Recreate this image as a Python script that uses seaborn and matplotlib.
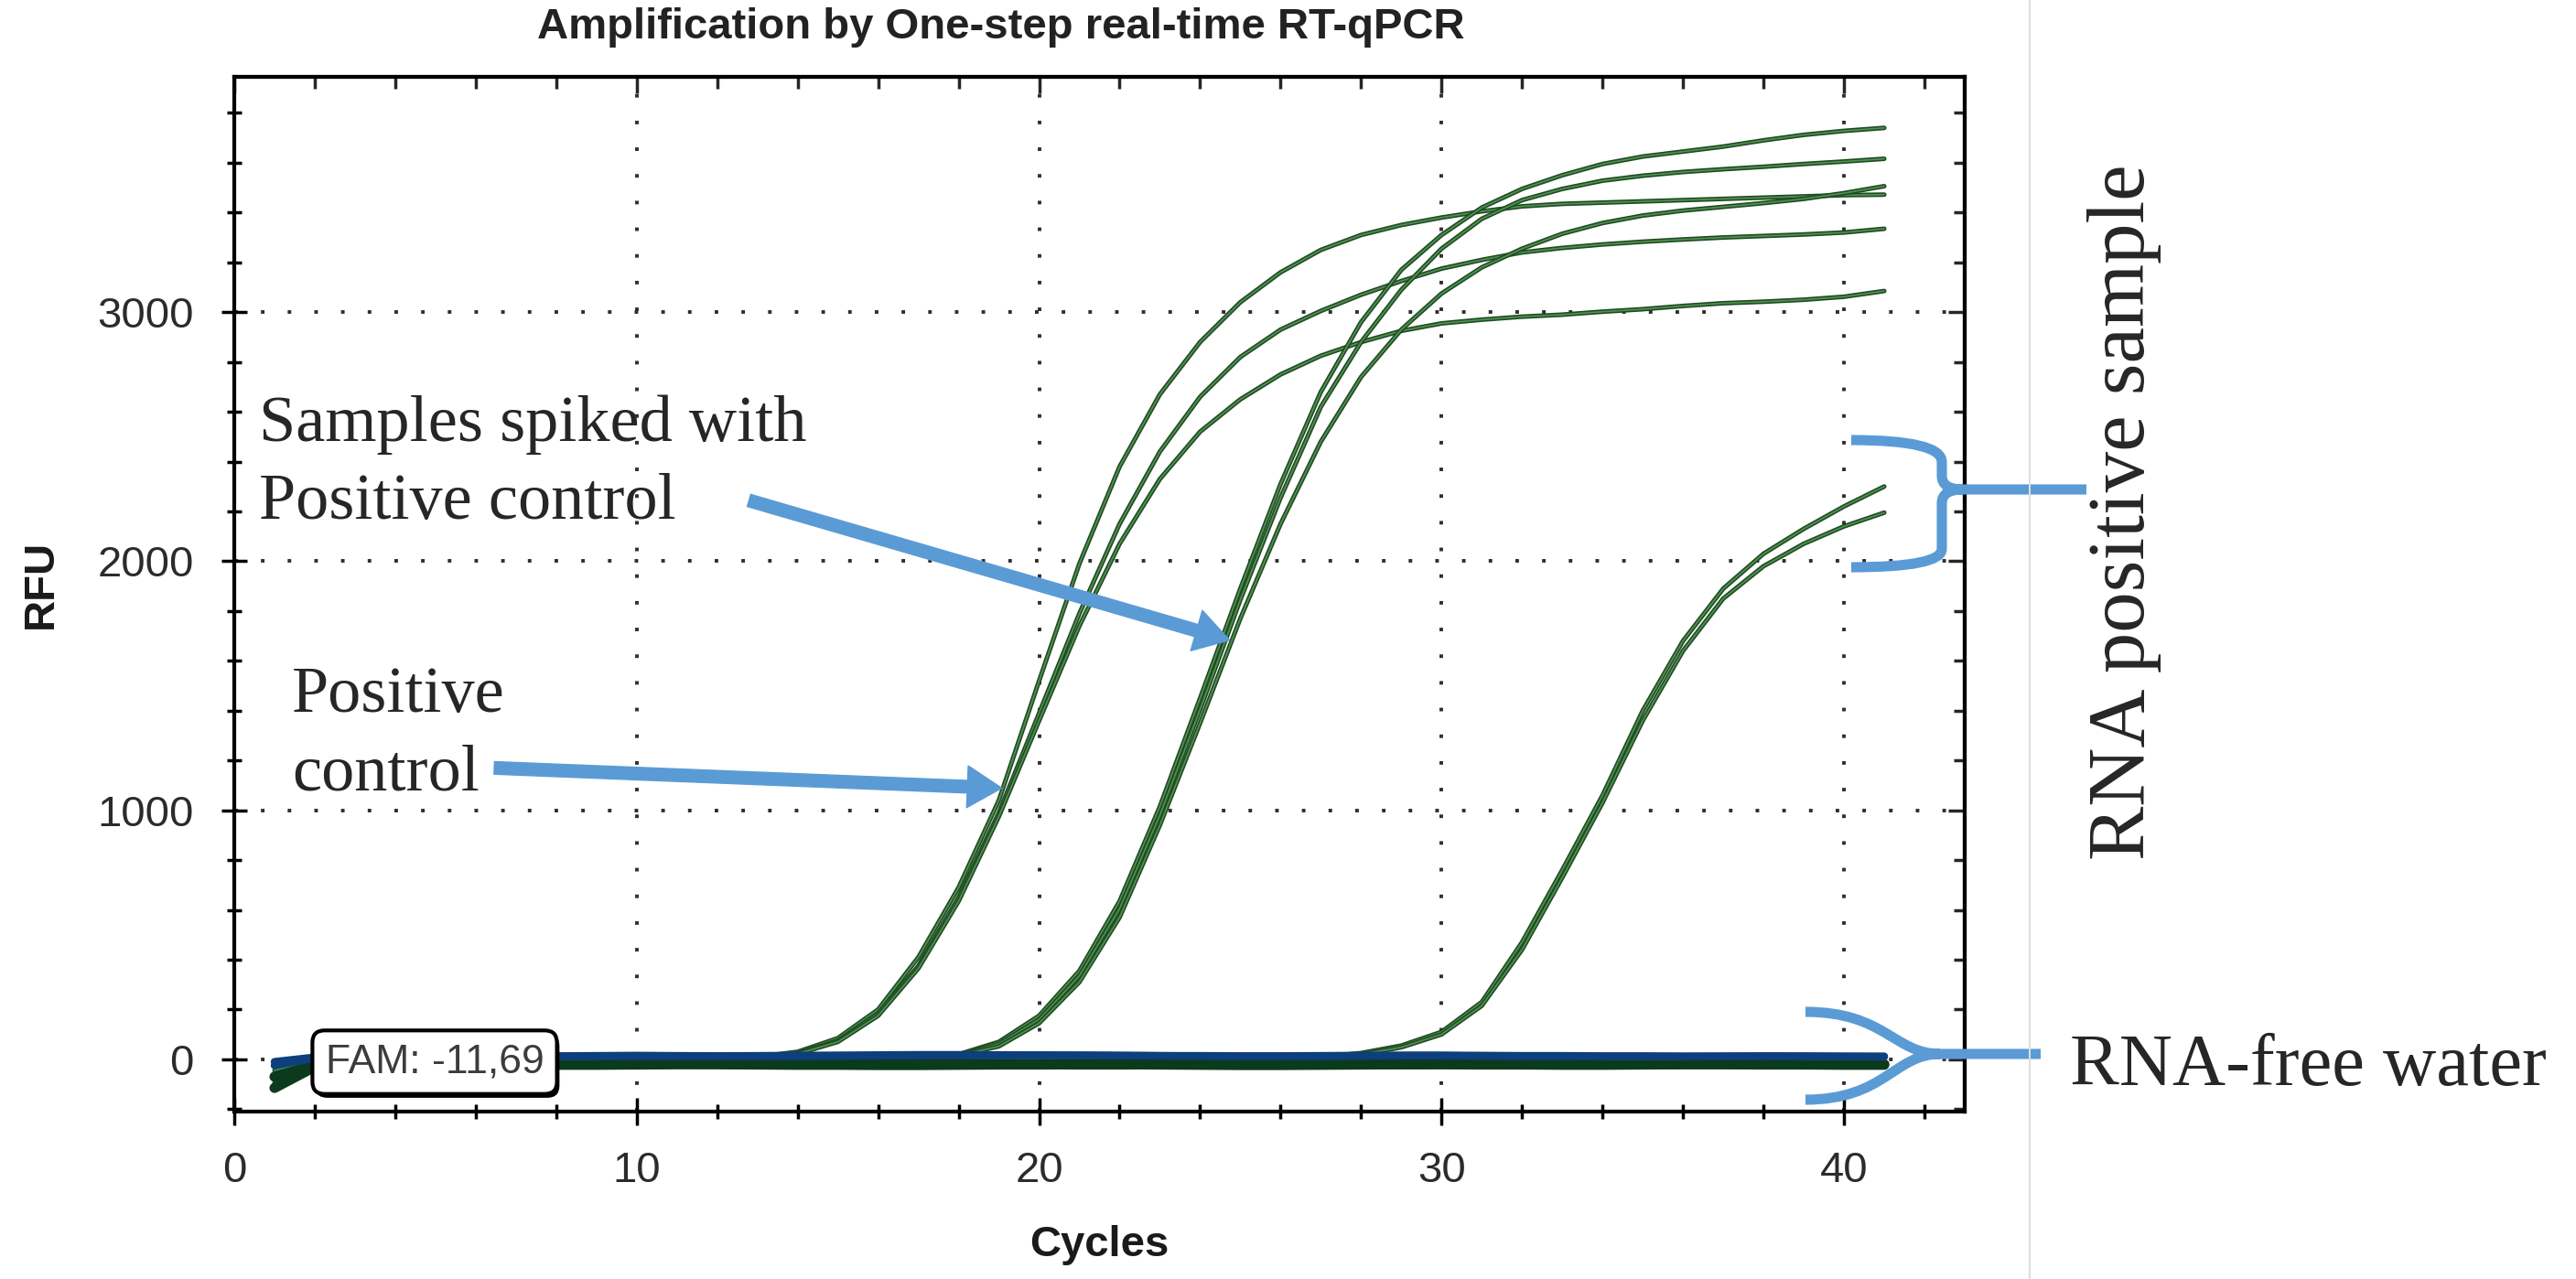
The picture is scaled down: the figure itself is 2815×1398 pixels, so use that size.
import matplotlib
matplotlib.use("Agg")
import matplotlib.pyplot as plt
import matplotlib.patheffects as pe
import seaborn as sns
import pandas as pd
from matplotlib.ticker import FixedLocator, MultipleLocator
from matplotlib.path import Path
from matplotlib.patches import PathPatch
from matplotlib.lines import Line2D

sns.set_style("ticks")
plt.rcParams['font.family'] = ['Liberation Sans', 'DejaVu Sans']

# -------------------------------
# Data (RFU per cycle)
# -------------------------------
cycles = list(range(1, 42))

positive_control_1 = [-95, -6, 0, 2, 1, 0, 1, 2, 1, 2,
                      3, 5, 10, 30, 85, 200, 410, 690, 1040, 1520,
                      1990, 2380, 2670, 2880, 3040, 3160, 3250, 3310, 3350, 3380,
                      3405, 3425, 3435, 3440, 3445, 3450, 3455, 3460, 3465, 3470,
                      3472]
positive_control_2 = [-60, -4, 1, 0, 2, 1, 0, 1, 2, 1,
                      2, 4, 8, 25, 75, 185, 375, 650, 990, 1390,
                      1790, 2150, 2440, 2660, 2820, 2930, 3005, 3070, 3125, 3175,
                      3210, 3240, 3258, 3272, 3283, 3292, 3300, 3306, 3312, 3320,
                      3335]
positive_control_3 = [-30, -3, 0, 1, 1, 2, 1, 0, 1, 2,
                      2, 3, 7, 22, 70, 175, 365, 635, 975, 1360,
                      1740, 2070, 2330, 2520, 2650, 2750, 2825, 2880, 2925, 2955,
                      2970, 2982, 2990, 3002, 3012, 3025, 3036, 3042, 3050, 3062,
                      3085]
spiked_1 = [-110, -8, 0, 1, 2, 1, 0, 1, 1, 2,
            1, 2, 2, 3, 3, 4, 5, 20, 70, 175,
            355, 635, 1015, 1450, 1890, 2310, 2680, 2960, 3170, 3310,
            3420, 3495, 3550, 3595, 3625, 3645, 3665, 3690, 3712, 3728,
            3740]
spiked_2 = [-80, -5, 1, 0, 1, 2, 1, 1, 0, 1,
            2, 1, 2, 2, 3, 3, 5, 18, 62, 160,
            335, 605, 980, 1405, 1845, 2255, 2620, 2880, 3090, 3255,
            3375, 3450, 3495, 3528, 3548, 3563, 3574, 3584, 3595, 3605,
            3616]
spiked_3 = [-45, -4, 0, 1, 1, 0, 2, 1, 1, 0,
            1, 2, 1, 2, 2, 3, 4, 15, 52, 145,
            310, 570, 940, 1350, 1770, 2150, 2480, 2740, 2930, 3075,
            3180, 3255, 3315, 3358, 3388, 3408, 3423, 3438, 3455, 3478,
            3506]
sample_1 = [-20, -2, 0, 1, 0, 1, 1, 0, 1, 1,
            0, 1, 1, 0, 1, 1, 2, 1, 2, 2,
            2, 1, 2, 2, 2, 3, 10, 25, 55, 110,
            230, 470, 760, 1060, 1400, 1680, 1890, 2030, 2130, 2220,
            2300]
sample_2 = [-70, -5, 0, 0, 1, 1, 0, 1, 1, 0,
            1, 1, 0, 1, 1, 2, 1, 1, 2, 1,
            2, 2, 1, 2, 2, 2, 8, 20, 48, 100,
            215, 440, 730, 1030, 1360, 1640, 1850, 1980, 2070, 2140,
            2195]

water_navy_1 = [-10, 8, 12, 14, 14, 13, 12, 13, 14, 15,
                14, 13, 14, 15, 16, 17, 18, 18, 17, 16,
                16, 15, 14, 14, 13, 13, 14, 15, 16, 16,
                15, 14, 14, 13, 13, 12, 12, 13, 13, 12,
                12]
water_navy_2 = [-25, 5, 10, 11, 12, 12, 11, 10, 11, 12,
                12, 13, 12, 12, 13, 14, 15, 16, 17, 17,
                16, 15, 14, 13, 12, 12, 12, 13, 14, 14,
                13, 12, 12, 11, 11, 11, 12, 12, 11, 11,
                10]
water_green_1 = [-115, -30, -22, -21, -20, -20, -21, -22, -22, -21,
                 -20, -20, -21, -22, -22, -23, -23, -22, -21, -21,
                 -20, -20, -21, -22, -23, -23, -22, -21, -20, -20,
                 -21, -21, -22, -22, -21, -20, -20, -21, -21, -22,
                 -22]
water_green_2 = [-70, -25, -18, -17, -17, -18, -19, -19, -18, -17,
                 -17, -18, -19, -20, -20, -19, -18, -18, -19, -20,
                 -21, -21, -20, -19, -18, -18, -19, -20, -20, -19,
                 -18, -18, -19, -20, -20, -19, -19, -18, -18, -19,
                 -20]

threshold = -11.69

x_ticks = [0, 10, 20, 30, 40]
y_ticks = [0, 1000, 2000, 3000]

amp_curves = {
    "pc1": positive_control_1, "pc2": positive_control_2, "pc3": positive_control_3,
    "sp1": spiked_1, "sp2": spiked_2, "sp3": spiked_3,
    "s1": sample_1, "s2": sample_2,
}
water_curves = {
    "wn1": ("navy", water_navy_1), "wn2": ("navy", water_navy_2),
    "wg1": ("green", water_green_1), "wg2": ("green", water_green_2),
}


def long_table(curves):
    rows = []
    for well, item in curves.items():
        tone, vals = item if isinstance(item, tuple) else ("amp", item)
        for c, v in zip(cycles, vals):
            rows.append((well, tone, c, v))
    return pd.DataFrame(rows, columns=["well", "tone", "cycle", "rfu"])


amp_df = long_table(amp_curves)
water_df = long_table(water_curves)

# -------------------------------
# Figure
# -------------------------------
W, H = 2815, 1398


def fx(px):
    return px / W


def fy(py):
    return 1 - py / H


fig = plt.figure(figsize=(W / 100, H / 100), dpi=100)
ax = fig.add_axes([fx(256), fy(1215), (2147 - 256) / W, (1215 - 84) / H])

sns.lineplot(data=amp_df, x="cycle", y="rfu", units="well", estimator=None,
             color="#4f8f50", linewidth=1.3, legend=False, ax=ax, zorder=3,
             path_effects=[pe.Stroke(linewidth=3.6, foreground="#1f4a22"), pe.Normal()])

sns.lineplot(data=water_df[water_df.tone == "green"], x="cycle", y="rfu",
             units="well", estimator=None, color="#0b3a1c", linewidth=8,
             legend=False, ax=ax, zorder=4)
sns.lineplot(data=water_df[water_df.tone == "navy"], x="cycle", y="rfu",
             units="well", estimator=None, color="#0d3f7d", linewidth=6,
             legend=False, ax=ax, zorder=4)

ax.set_xlim(0, 43)
ax.set_ylim(-210, 3945)

ax.xaxis.set_major_locator(FixedLocator(x_ticks))
ax.xaxis.set_minor_locator(MultipleLocator(2))
ax.yaxis.set_major_locator(FixedLocator(y_ticks))
ax.yaxis.set_minor_locator(MultipleLocator(200))

ax.tick_params(which="both", direction="inout", width=2.5, color="black",
               top=False, right=False, labelsize=34, labelcolor="#2b2b2b")
ax.tick_params(axis="x", which="major", length=22, pad=20)
ax.tick_params(axis="x", which="minor", length=12)
ax.tick_params(axis="y", which="major", length=20, pad=22)
ax.tick_params(axis="y", which="minor", length=12)

ax.set_axisbelow(True)
ax.grid(True, which="major", color="#2e2e2e", linewidth=2.8,
        linestyle=(0, (1, 6.5)))

for s in ax.spines.values():
    s.set_linewidth(3)
    s.set_color("black")

# inward ticks on the top and right frame
top = ax.secondary_xaxis("top")
top.xaxis.set_major_locator(FixedLocator(x_ticks))
top.xaxis.set_minor_locator(MultipleLocator(2))
top.tick_params(which="both", direction="in", labeltop=False, width=2.5)
top.tick_params(which="major", length=13)
top.tick_params(which="minor", length=9)
top.spines["top"].set_linewidth(3)

right = ax.secondary_yaxis("right")
right.yaxis.set_major_locator(FixedLocator(y_ticks))
right.yaxis.set_minor_locator(MultipleLocator(200))
right.tick_params(which="both", direction="in", labelright=False, width=2.5)
right.tick_params(which="major", length=13)
right.tick_params(which="minor", length=9)
right.spines["right"].set_linewidth(3)

ax.set_xlabel("Cycles", fontsize=34, fontweight="bold", color="#1a1a1a")
ax.xaxis.set_label_coords(0.5, -0.11)
ax.set_ylabel("RFU", fontsize=34, fontweight="bold", color="#1a1a1a")
ax.yaxis.set_label_coords(-0.10, 0.51)

fig.text(fx(1094), fy(30), "Amplification by One-step real-time RT-qPCR",
         ha="center", va="center", fontsize=34, fontweight="bold", color="#222222")

# threshold label box
fam = ax.text(4.98, threshold, "FAM: -11,69", ha="center", va="center",
              fontsize=32, color="#3c3c3c", zorder=8,
              bbox=dict(boxstyle="round,pad=0.32,rounding_size=0.3",
                        fc="white", ec="black", lw=3))
fam.get_bbox_patch().set_path_effects([
    pe.SimplePatchShadow(offset=(2, -3), shadow_rgbFace="black", alpha=1),
    pe.Normal()])

# -------------------------------
# Annotations
# -------------------------------
blue = "#5b9bd5"
serif = ["Liberation Serif", "DejaVu Serif"]
arrow = dict(arrowstyle="simple,head_length=0.9,head_width=1.1,tail_width=0.33",
             color=blue, mutation_scale=30, shrinkA=0, shrinkB=0)

ax.annotate("", xy=(24.73, 1683), xytext=(12.79, 2244), arrowprops=arrow,
            annotation_clip=False, zorder=9)
ax.annotate("", xy=(19.07, 1089), xytext=(6.46, 1170), arrowprops=arrow,
            annotation_clip=False, zorder=9)

fig.text(fx(283), fy(482), "Samples spiked with", family=serif, fontsize=52,
         va="baseline", ha="left")
fig.text(fx(283), fy(567), "Positive control", family=serif, fontsize=52,
         va="baseline", ha="left")
fig.text(fx(319), fy(778), "Positive", family=serif, fontsize=52,
         va="baseline", ha="left")
fig.text(fx(319), fy(863), "control", family=serif, fontsize=52,
         va="baseline", ha="left")

fig.text(fx(2322), fy(560), "RNA positive sample", family=serif, fontsize=64,
         rotation=90, ha="center", va="center")
fig.text(fx(2262), fy(1186), "RNA-free water", family=serif, fontsize=58,
         ha="left", va="baseline")

# braces
M, L, C3, C4 = Path.MOVETO, Path.LINETO, Path.CURVE3, Path.CURVE4


def brace(pts, codes):
    verts = [(fx(x), fy(y)) for x, y in pts]
    patch = PathPatch(Path(verts, codes), fill=False, ec=blue, lw=8,
                      transform=fig.transFigure, capstyle="butt")
    fig.add_artist(patch)


brace([(2023, 481), (2122, 481), (2122, 505), (2122, 520),
       (2122, 535), (2145, 535), (2280, 535),
       (2145, 535), (2122, 535), (2122, 550), (2122, 600),
       (2122, 620), (2023, 620)],
      [M, C3, C3, L, C3, C3, L, M, C3, C3, L, C3, C3])

brace([(1973, 1106), (2060, 1106), (2070, 1152), (2120, 1152), (2230, 1152),
       (1973, 1202), (2060, 1202), (2070, 1152), (2120, 1152)],
      [M, C4, C4, C4, L, M, C4, C4, C4])

# page edge of the original screenshot
fig.add_artist(Line2D([fx(2218), fx(2218)], [0, 1], transform=fig.transFigure,
                      color="#dedede", lw=1.5))

fig.savefig("out.png", dpi=100)
